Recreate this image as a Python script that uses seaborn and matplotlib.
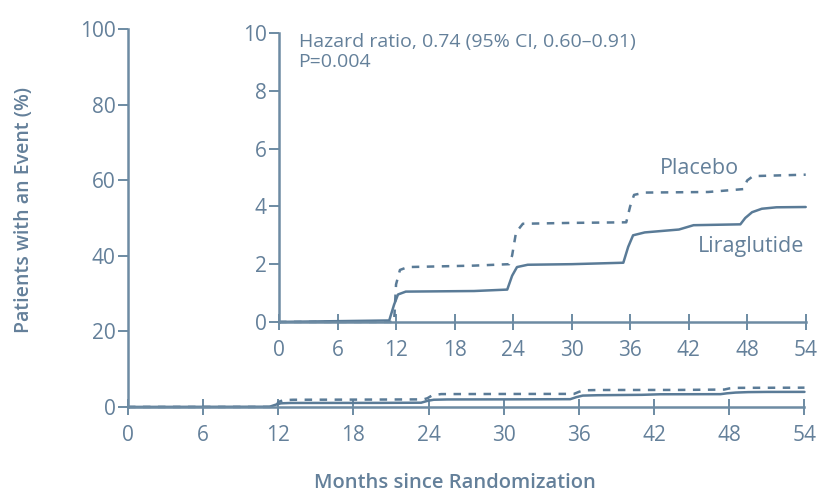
import matplotlib
matplotlib.use("Agg")
import matplotlib.pyplot as plt
import seaborn as sns
import numpy as np

sns.set_theme(style="white")
plt.rcParams['font.family'] = ['Open Sans', 'DejaVu Sans']

# Data (cumulative incidence, %)
lira_months = [0, 11.3, 11.8, 12.2, 13, 20, 23.4, 23.9, 24.4, 25.5, 30, 35.3, 35.8, 36.3, 37.5, 41, 42.5, 47.3, 47.8, 48.5, 49.5, 51, 54]
lira_pct    = [0, 0.05, 0.6, 0.95, 1.05, 1.07, 1.12, 1.6, 1.9, 1.98, 2.0, 2.05, 2.6, 3.0, 3.1, 3.2, 3.35, 3.38, 3.6, 3.8, 3.92, 3.97, 3.98]
plac_months = [0, 11.8, 12.0, 12.4, 13.2, 20, 23.6, 23.9, 24.3, 25.0, 30, 35.6, 36.0, 36.4, 37.5, 44, 47.6, 48.0, 48.6, 54]
plac_pct    = [0, 0.0, 1.3, 1.8, 1.9, 1.95, 2.0, 2.3, 3.1, 3.4, 3.43, 3.45, 4.0, 4.4, 4.48, 4.5, 4.6, 4.9, 5.05, 5.1]

x_ticks = [0, 6, 12, 18, 24, 30, 36, 42, 48, 54]
main_yticks = [0, 20, 40, 60, 80, 100]
inset_yticks = [0, 2, 4, 6, 8, 10]

ax_color = "#6d8ba3"
line_color = "#5a7b97"
text_color = "#64809a"
fs = 15

fig = plt.figure(figsize=(8.23, 5.03), dpi=100)
ax = fig.add_axes([0.1555, 0.191, 0.822, 0.751])
ins = fig.add_axes([0.339, 0.360, 0.640, 0.574])

def style(a, ymax, yticks):
    a.set_xlim(0, 54)
    a.set_ylim(0, ymax)
    a.set_xticks(x_ticks)
    a.set_yticks(yticks)
    for s in ["top", "right"]:
        a.spines[s].set_visible(False)
    for s in ["left", "bottom"]:
        a.spines[s].set_color(ax_color)
        a.spines[s].set_linewidth(1.8)
    a.tick_params(axis="x", bottom=True, direction="inout", length=12, width=1.4,
                  color=ax_color, labelcolor=text_color, labelsize=fs, pad=7)
    a.tick_params(axis="y", left=True, direction="out", length=7, width=1.4,
                  color=ax_color, labelcolor=text_color, labelsize=fs, pad=2)
    a.set_facecolor("none")
    a.grid(False)

for a in (ax, ins):
    sns.lineplot(x=lira_months, y=lira_pct, ax=a, color=line_color, linewidth=1.8,
                 linestyle="-", estimator=None, sort=False)
    sns.lineplot(x=plac_months, y=plac_pct, ax=a, color=line_color, linewidth=1.8,
                 linestyle=(0, (3, 3)), estimator=None, sort=False)

style(ax, 100, main_yticks)
style(ins, 10, inset_yticks)

for a in (ax, ins):
    for l in a.lines:
        l.set_clip_on(False)

ax.set_xlabel("Months since Randomization", color=text_color, fontsize=14.5,
              fontweight="semibold")
ax.set_ylabel("Patients with an Event (%)", color=text_color, fontsize=14,
              fontweight="semibold")
ax.xaxis.set_label_coords(0.484, -0.175)
ax.yaxis.set_label_coords(-0.139, 0.52)
ins.set_xlabel("")
ins.set_ylabel("")

ins.text(2.0, 10.0, "Hazard ratio, 0.74 (95% CI, 0.60\u20130.91)\nP=0.004",
         color=text_color, fontsize=14, va="top", ha="left", linespacing=1.1)
ins.text(47.2, 5.33, "Placebo", color=text_color, fontsize=15.5, ha="right", va="center")
ins.text(53.8, 2.6, "Liraglutide", color=text_color, fontsize=15.5, ha="right", va="center")

fig.savefig("out.png", dpi=100)
